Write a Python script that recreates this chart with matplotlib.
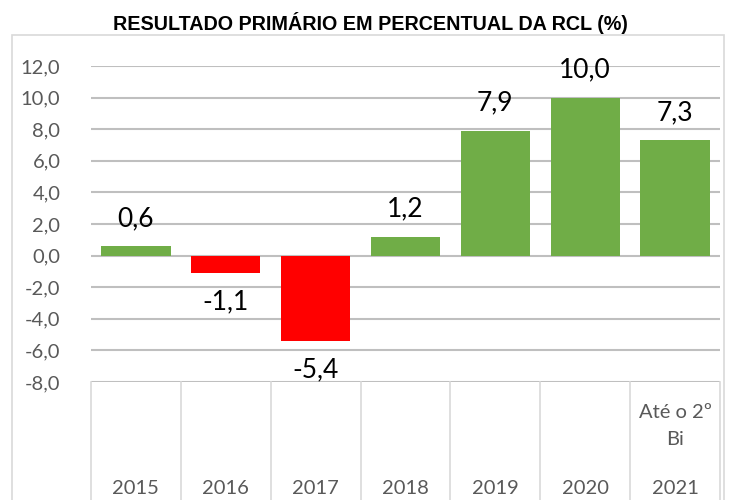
import matplotlib
matplotlib.use('Agg')
import matplotlib.pyplot as plt
from matplotlib.patches import Rectangle
import numpy as np

anos = ['2015', '2016', '2017', '2018', '2019', '2020', '2021']
sub_rotulos = ['', '', '', '', '', '', 'Até o 2º\nBi']
valores = [0.6, -1.1, -5.4, 1.2, 7.9, 10.0, 7.3]
yticks = [-8, -6, -4, -2, 0, 2, 4, 6, 8, 10, 12]

verde = '#70AD47'
vermelho = '#FF0000'
cinza_txt = '#595959'
cinza_linha = '#BFBFBF'

plt.rcParams['font.family'] = ['Lato', 'DejaVu Sans']

fig = plt.figure(figsize=(7.29, 5.0), dpi=100)
ax = fig.add_axes([91 / 729, 1 - 382 / 500, (720 - 91) / 729, (382 - 66) / 500])

# borda do grafico
fig.patches.append(Rectangle((12 / 729, -0.01), (724 - 12) / 729, 1 - 35 / 500 + 0.01,
                             transform=fig.transFigure, fill=False,
                             edgecolor='#D9D9D9', linewidth=1.2))

fig.text(370 / 729, 1 - 23 / 500, 'RESULTADO PRIMÁRIO EM PERCENTUAL DA RCL (%)',
         ha='center', va='center', fontsize=14.2, fontweight='bold',
         family=['Liberation Sans', 'DejaVu Sans'])

x = np.arange(len(anos))
cores = [verde if v >= 0 else vermelho for v in valores]
ax.bar(x, valores, width=0.77, color=cores, zorder=3)

for xi, v in zip(x, valores):
    if v >= 0:
        ax.annotate('{:.1f}'.format(v).replace('.', ','), (xi, v), xytext=(0, 11),
                    textcoords='offset points', ha='center', va='bottom', fontsize=19)
    else:
        ax.annotate('{:.1f}'.format(v).replace('.', ','), (xi, v), xytext=(0, -12),
                    textcoords='offset points', ha='center', va='top', fontsize=19)

ax.set_xlim(-0.5, len(anos) - 0.5)
ax.set_ylim(-8, 12)
ax.set_yticks(yticks)
ax.set_yticklabels(['{:.1f}'.format(t).replace('.', ',') for t in yticks],
                   fontsize=14.5, color=cinza_txt)
ax.tick_params(axis='y', length=0, pad=22)
ax.set_xticks([])
ax.grid(axis='y', color=cinza_linha, linewidth=1.5, zorder=0)
for s in ax.spines.values():
    s.set_visible(False)

# eixo de categorias
fundo = -(500 - 382) / 316
for i in range(len(anos) + 1):
    ax.plot([i - 0.5, i - 0.5], [0, fundo], transform=ax.get_xaxis_transform(),
            color='#D9D9D9', linewidth=1.2, clip_on=False)
for xi, ano, sub in zip(x, anos, sub_rotulos):
    ax.text(xi, -(488 - 382) / 316, ano, transform=ax.get_xaxis_transform(),
            ha='center', va='center', fontsize=14.5, color=cinza_txt)
    if sub:
        ax.text(xi, -(426 - 382) / 316, sub, transform=ax.get_xaxis_transform(),
                ha='center', va='center', fontsize=14.5, color=cinza_txt, linespacing=1.7)

fig.savefig('out.png', dpi=100)
